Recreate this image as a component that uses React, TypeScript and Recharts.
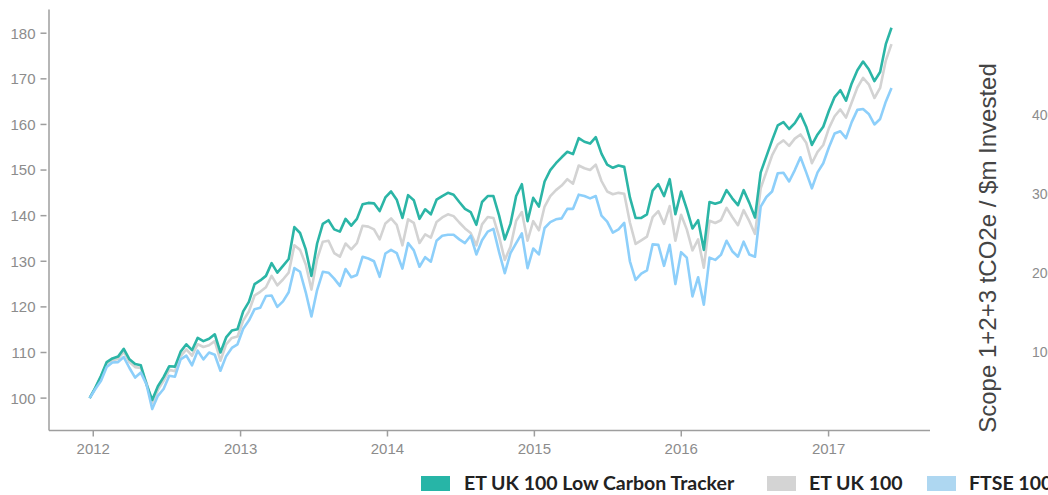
import { Line, LineChart, XAxis, YAxis } from 'recharts'

const DAY = 86400000
// fortnightly closes, rebased to 100
const START = Date.UTC(2011, 11, 23)
const STEP_DAYS = 14.13

const YEARS = [2012, 2013, 2014, 2015, 2016, 2017]
const LEFT_TICKS = [100, 110, 120, 130, 140, 150, 160, 170, 180]
const RIGHT_TICKS = [100, 200, 300, 400]

const LOW_CARBON = [
  100.0, 102.3, 104.9, 107.9, 108.7, 109.1, 110.8, 108.5, 107.5, 107.2,
  103.0, 99.6, 102.6, 104.6, 107.0, 106.9, 110.2, 111.8, 110.5, 113.2,
  112.5, 113.0, 114.0, 110.0, 113.3, 114.8, 115.1, 119.0, 121.1, 125.0,
  125.8, 126.8, 129.6, 127.5, 129.0, 130.5, 137.5, 136.2, 132.6, 126.8,
  133.9, 138.2, 139.0, 137.0, 136.5, 139.3, 137.8, 139.3, 142.5, 142.8,
  142.7, 141.0, 144.0, 145.3, 143.5, 139.5, 144.5, 143.4, 139.3, 141.4,
  140.3, 143.5, 144.3, 145.0, 144.6, 143.0, 141.5, 140.8, 138.0, 143.0,
  144.3, 144.3, 140.0, 134.8, 138.2, 144.3, 146.9, 138.8, 143.9, 142.0,
  147.5, 150.0, 151.5, 152.8, 154.0, 153.5, 157.0, 156.2, 155.8, 157.2,
  153.6, 151.2, 150.5, 151.0, 150.7, 144.0, 139.5, 139.5, 140.3, 145.5,
  146.9, 144.3, 148.0, 140.3, 145.3, 141.5, 137.2, 139.0, 132.5, 143.0,
  142.6, 143.0, 145.6, 143.8, 142.3, 145.6, 142.8, 139.6, 149.5, 153.0,
  156.5, 159.8, 160.5, 159.0, 160.3, 162.3, 159.5, 155.5, 157.8, 159.5,
  163.0, 166.0, 167.5, 165.2, 169.0, 171.9, 173.8, 172.1, 169.5, 171.5,
  177.6, 181.2,
]

const ET_UK_100 = [
  100.0, 102.2, 104.7, 107.6, 108.3, 108.6, 110.2, 107.9, 106.8, 106.6,
  103.4, 99.0, 101.8, 103.8, 106.2, 105.9, 109.2, 110.7, 109.3, 111.8,
  111.2, 111.6, 112.5, 108.2, 111.8, 113.2, 113.5, 117.0, 119.0, 122.5,
  123.3, 124.3, 126.8, 124.7, 126.0, 127.5, 133.5, 132.5, 129.3, 123.8,
  130.5, 134.3, 134.5, 131.8, 131.0, 133.9, 132.6, 134.0, 137.8, 137.6,
  137.0, 134.8, 138.3, 139.4, 138.0, 133.5, 139.2, 138.4, 134.0, 135.9,
  135.2, 138.6, 139.6, 140.3, 139.9, 138.5, 137.2, 136.2, 133.5, 138.1,
  139.7, 139.5, 135.4, 130.3, 133.2, 138.9, 140.8, 134.5, 138.8, 136.8,
  142.0, 144.3, 145.6, 146.6, 148.0, 147.0, 151.0, 150.4, 150.0, 151.2,
  147.6, 145.3, 144.7, 145.0, 144.8, 138.5, 133.8, 134.6, 135.4, 139.7,
  141.0, 138.2, 142.1, 134.5, 140.2, 137.0, 132.4, 134.8, 128.6, 138.9,
  138.4, 139.0, 141.7, 139.7, 137.9, 141.2, 138.8, 136.0, 146.0, 149.6,
  153.2, 155.6, 156.5, 155.3, 156.9, 157.8, 156.0, 151.5, 154.0, 155.5,
  159.2, 161.8, 163.3, 161.5, 164.8, 168.1, 170.2, 168.8, 165.8, 168.0,
  174.0, 177.6,
]

const FTSE_100 = [
  100.0, 102.0, 103.8, 106.8, 107.8, 107.9, 109.0, 106.6, 104.5, 105.6,
  103.0, 97.6, 100.5, 102.0, 104.9, 104.7, 108.5, 109.3, 107.2, 110.4,
  108.5, 110.0, 109.5, 106.0, 109.2, 111.0, 111.8, 115.2, 117.0, 119.5,
  119.8, 122.4, 122.5, 120.0, 121.2, 123.2, 128.5, 127.7, 123.2, 117.9,
  123.7, 127.7, 127.5, 126.2, 124.6, 128.3, 126.5, 127.0, 131.0, 130.6,
  130.0, 126.6, 131.7, 132.5, 131.8, 128.4, 134.0, 132.4, 128.8, 130.9,
  129.9, 134.5, 135.6, 135.8, 135.8, 134.8, 134.0, 135.6, 131.5, 134.6,
  136.5, 137.1, 132.0, 127.4, 131.8, 134.0, 136.1, 128.5, 132.8, 131.5,
  137.3, 138.6, 139.2, 139.4, 141.5, 141.5, 144.6, 144.3, 143.8, 144.3,
  140.0, 138.7, 136.3, 137.0, 138.4, 130.0, 125.9, 127.3, 128.0, 133.7,
  133.6, 129.0, 133.6, 125.0, 132.0, 130.8, 122.3, 126.5, 120.5, 130.8,
  130.3, 131.4, 134.5, 132.2, 131.0, 134.3, 131.5, 131.0, 142.0, 144.1,
  145.3, 149.3, 149.4, 147.5, 150.0, 152.8, 149.5, 146.0, 149.5, 151.5,
  155.0, 158.0, 158.5, 157.0, 160.5, 163.2, 163.4, 162.3, 160.0, 161.2,
  165.0, 168.0,
]

const SERIES = [
  { key: 'etuk', name: 'ET UK 100', line: '#d3d3d3', swatch: '#d4d4d4' },
  { key: 'lct', name: 'ET UK 100 Low Carbon Tracker', line: '#2bb5a6', swatch: '#27b5a7' },
  { key: 'ftse', name: 'FTSE 100', line: '#8dcffa', swatch: '#aed7f1' },
]
const LEGEND_ORDER = ['lct', 'etuk', 'ftse']

const data = LOW_CARBON.map((v, i) => ({
  t: START + i * STEP_DAYS * DAY,
  lct: v,
  etuk: ET_UK_100[i],
  ftse: FTSE_100[i],
}))

const AXIS = '#9e9e9e'
const LABEL = '#8c8c8c'
const SANS = '"Liberation Sans", Arial, sans-serif'

function LeftTick({ x, y, payload }: any) {
  return (
    <g>
      <line x1={x - 8.5} x2={x - 2.5} y1={y} y2={y} stroke={AXIS} strokeWidth={1.5} />
      <text x={x - 13.5} y={y} dy="0.36em" textAnchor="end" fill={LABEL} fontSize={15} fontFamily={SANS}>
        {payload.value}
      </text>
    </g>
  )
}

function RightTick({ x, y, payload }: any) {
  return (
    <text x={x + 102} y={y} dy="0.36em" textAnchor="start" fill={LABEL} fontSize={14} fontFamily={SANS}>
      {payload.value}
    </text>
  )
}

const legendPos: Record<string, { sq: number; tx: number }> = {
  lct: { sq: 421, tx: 464 },
  etuk: { sq: 767, tx: 809 },
  ftse: { sq: 927, tx: 969 },
}

export default function App() {
  return (
    <div style={{ position: 'absolute', left: 0, top: 0, width: 1048, height: 495, overflow: 'hidden', background: '#fff' }}>
      <LineChart width={1100} height={495} data={data} margin={{ top: 9.5, right: 0, bottom: 34.5, left: 0 }}>
        <XAxis
          dataKey="t"
          type="number"
          scale="time"
          domain={[Date.UTC(2011, 8, 13), Date.UTC(2017, 8, 10)]}
          ticks={YEARS.map((y) => Date.UTC(y, 0, 1))}
          tickFormatter={(v: number) => String(new Date(v).getUTCFullYear())}
          stroke={AXIS}
          strokeWidth={1.5}
          tickSize={6}
          tickMargin={7}
          tick={{ fill: LABEL, fontSize: 15, fontFamily: SANS }}
        />
        <YAxis
          yAxisId="left"
          width={49}
          type="number"
          domain={[92.9, 185.2]}
          ticks={LEFT_TICKS}
          stroke={AXIS}
          strokeWidth={1.5}
          tickLine={false}
          tickSize={0}
          tickMargin={0}
          tick={<LeftTick />}
        />
        <YAxis
          yAxisId="right"
          orientation="right"
          width={170}
          type="number"
          domain={[0, 533]}
          allowDataOverflow
          ticks={RIGHT_TICKS}
          axisLine={false}
          tickLine={false}
          tickSize={0}
          tickMargin={0}
          tick={<RightTick />}
        />
        {/* carbon intensity series is not plotted in this view; keeps the right scale live */}
        <Line yAxisId="right" dataKey="lct" hide legendType="none" isAnimationActive={false} />
        {SERIES.map((s) => (
          <Line
            key={s.key}
            yAxisId="left"
            dataKey={s.key}
            name={s.name}
            type="linear"
            stroke={s.line}
            strokeWidth={2.6}
            strokeLinejoin="round"
            dot={false}
            activeDot={false}
            isAnimationActive={false}
          />
        ))}
      </LineChart>
      <div
        style={{
          position: 'absolute',
          left: 988,
          top: 248,
          transform: 'translate(-50%, -50%) rotate(-90deg)',
          whiteSpace: 'nowrap',
          fontFamily: SANS,
          fontSize: 24,
          color: '#444',
        }}
      >
        Scope 1+2+3 tCO2e / $m Invested
      </div>
      {LEGEND_ORDER.map((k) => {
        const s = SERIES.find((d) => d.key === k)!
        const p = legendPos[k]
        return (
          <div key={k}>
            <div style={{ position: 'absolute', left: p.sq, top: 476, width: 29, height: 15, background: s.swatch }} />
            <div
              style={{
                position: 'absolute',
                left: p.tx,
                top: 472,
                lineHeight: '22px',
                whiteSpace: 'nowrap',
                fontFamily: 'Lato, "Open Sans", sans-serif',
                fontWeight: 700,
                fontSize: 19.5,
                color: '#222',
              }}
            >
              {s.name}
            </div>
          </div>
        )
      })}
    </div>
  )
}
